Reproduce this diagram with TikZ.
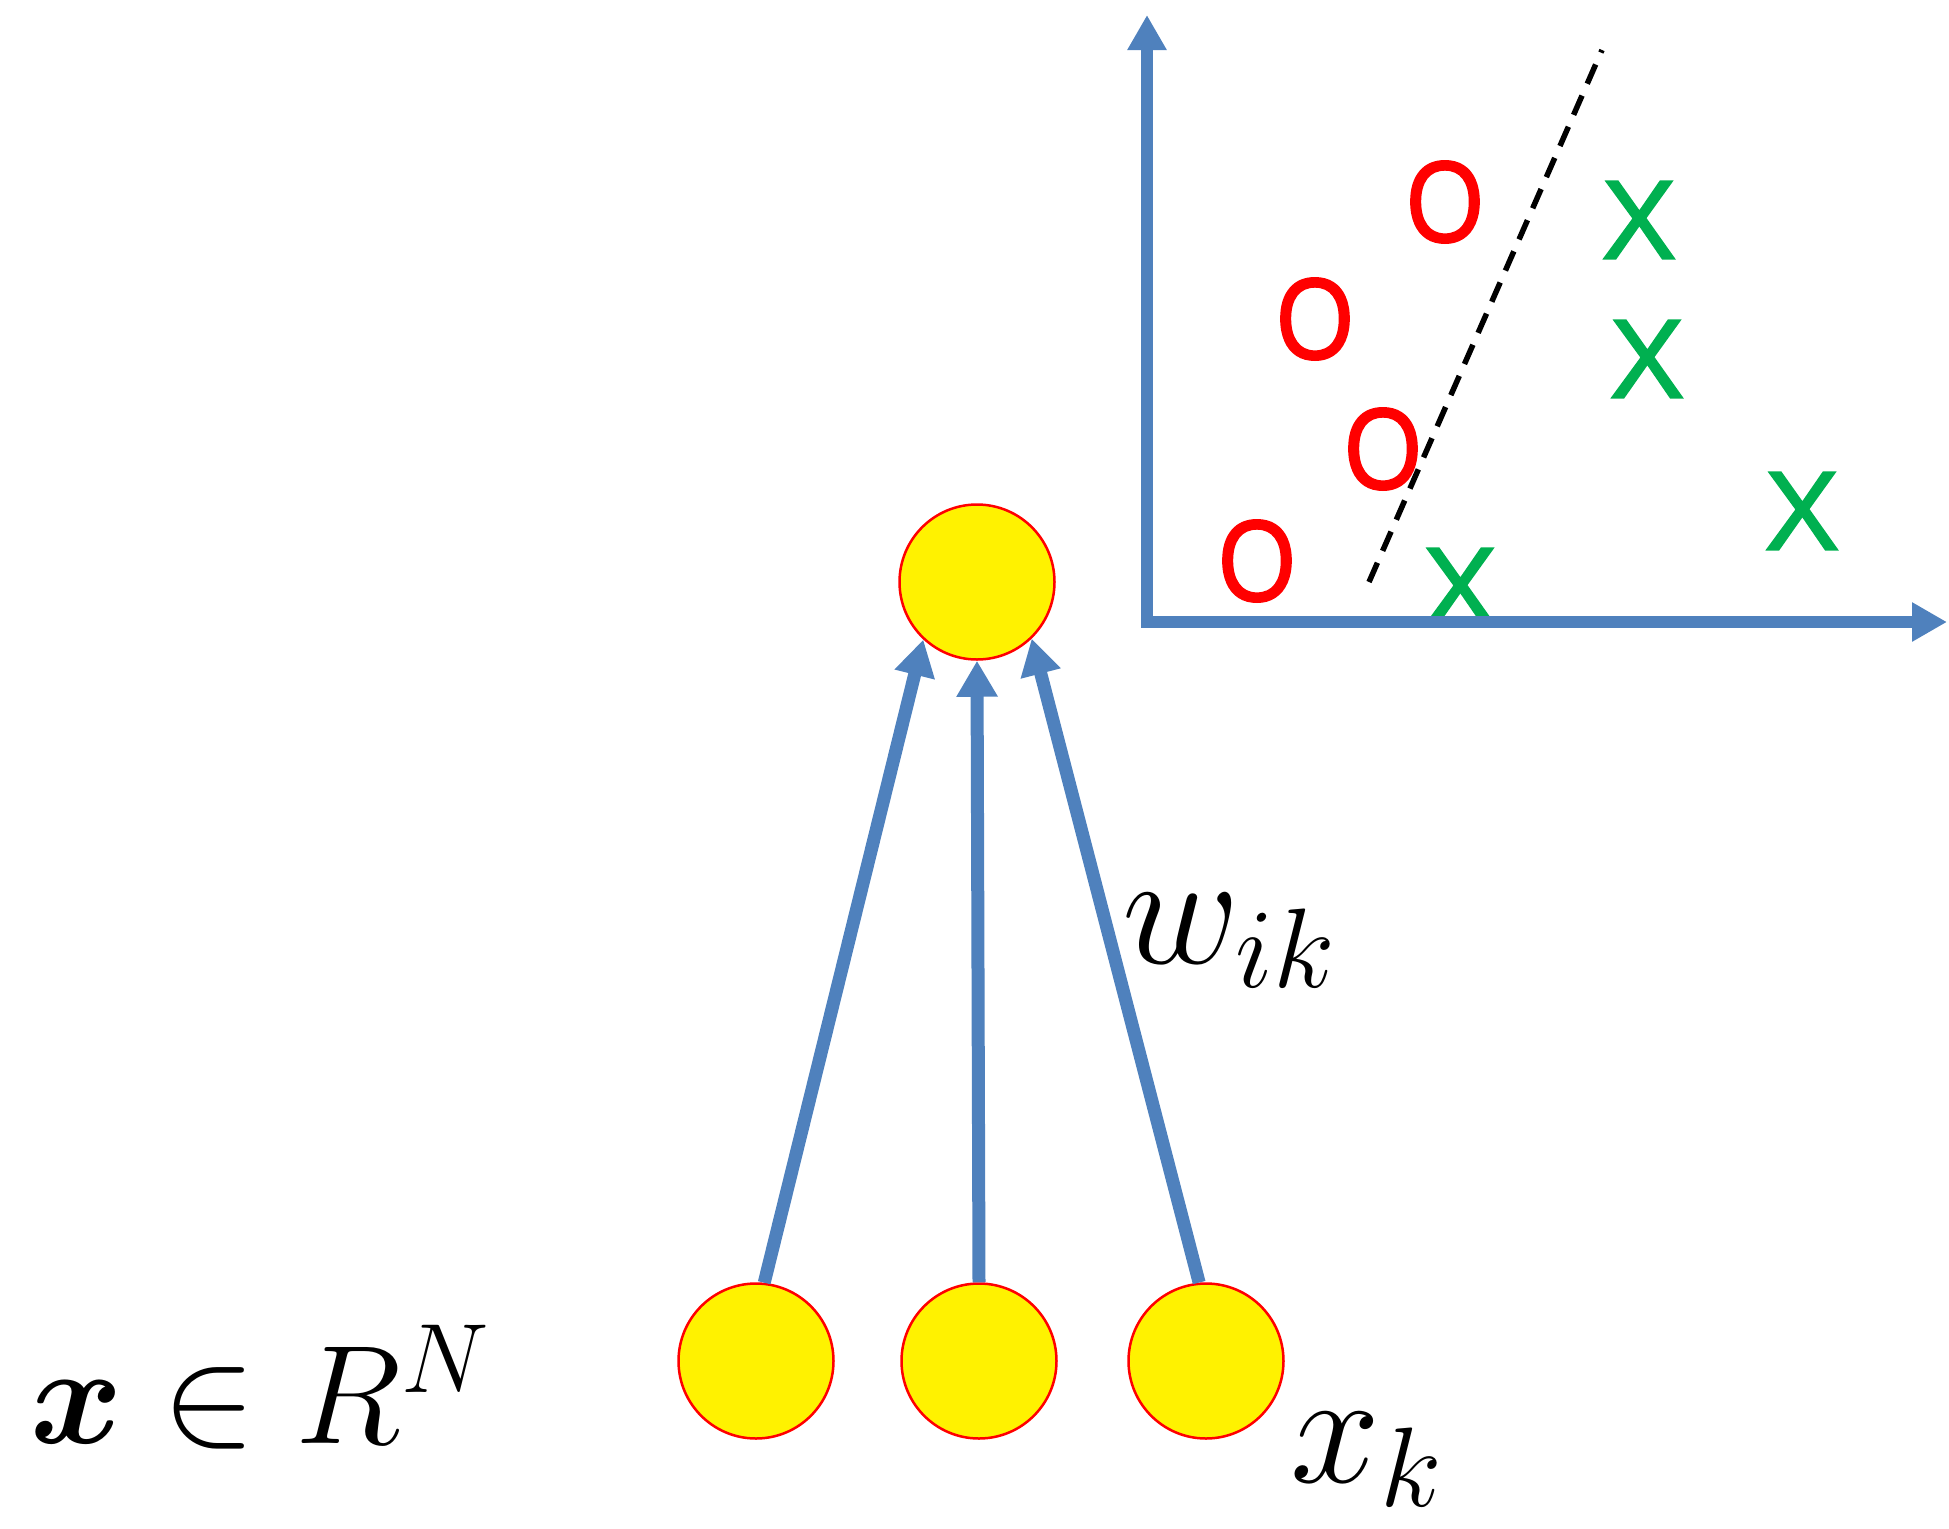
\RequirePackage{fix-cm}
\documentclass[tikz,border=0pt]{standalone}
\usepackage{amsmath,amssymb}
\usepackage{fontspec}
\newfontfamily\chuso[FakeBold=1.6]{Liberation Sans}
\usetikzlibrary{arrows.meta}
\definecolor{xanhduong}{RGB}{79,129,189}
\definecolor{xanhla}{RGB}{0,176,80}

\begin{document}
\begin{tikzpicture}[x=0.1mm,y=-0.1mm, line join=miter,
	noron/.style={circle,draw=red,line width=0.25mm,fill=yellow,minimum size=15.5mm,inner sep=0pt},
	mui/.style={draw=xanhduong,line width=1.3mm,-{Triangle[width=3.9mm,length=3.6mm]}},
	diemO/.style={text=red,font=\chuso\fontsize{33}{33}\selectfont,inner sep=0pt,xscale=0.86},
	diemX/.style={text=xanhla,font=\chuso\fontsize{32}{32}\selectfont,inner sep=0pt},
	nhan/.style={font=\fontsize{46}{50}\selectfont,inner sep=0pt,anchor=base west}]
	\useasboundingbox (0,0) rectangle (1949,1528);
	\coordinate (O) at (1147,622); % gốc toạ độ
	\coordinate (Ox) at (1947,622);
	\coordinate (Oy) at (1147,15);
	\coordinate (d1) at (1369,582); % đường phân tách
	\coordinate (d2) at (1602,50);
	% các điểm dữ liệu
	\node[diemO] (o1) at (1445,202) {O};
	\node[diemO] (o2) at (1315,319) {O};
	\node[diemO] (o3) at (1383,449) {O};
	\node[diemO] (o4) at (1257,561) {O};
	\node[diemX] (t1) at (1639,220) {X};
	\node[diemX] (t2) at (1647,359) {X};
	\node[diemX] (t3) at (1802,511) {X};
	\node[diemX] (t4) at (1460,587) {X};
	\draw[draw=xanhduong,line width=1.2mm,{Triangle[width=3.7mm,length=3.5mm]}-{Triangle[width=3.7mm,length=3.5mm]}] (Oy) -- (O) -- (Ox);
	\draw[line width=0.55mm,dash pattern=on 2.1mm off 1.3mm] (d1) -- (d2);
	% các nơ-ron
	\node[noron] (y) at (977,582) {};
	\node[noron] (x1) at (756,1361) {};
	\node[noron] (x2) at (979,1361) {};
	\node[noron] (x3) at (1206,1361) {};
	\draw[mui] (x1.84) -- (y.-133);
	\draw[mui] (x2.north) -- (y.south);
	\draw[mui] (x3.95) -- (y.-46);
	\node[nhan] (w) at (1122,963) {$w_{ik}$};
	\node[nhan] (xk) at (1290,1482) {$x_k$};
	\node[nhan,font=\fontsize{40}{44}\selectfont] (R) at (30,1443) {$\boldsymbol{x}\in R^N$};
\end{tikzpicture}
\end{document}
